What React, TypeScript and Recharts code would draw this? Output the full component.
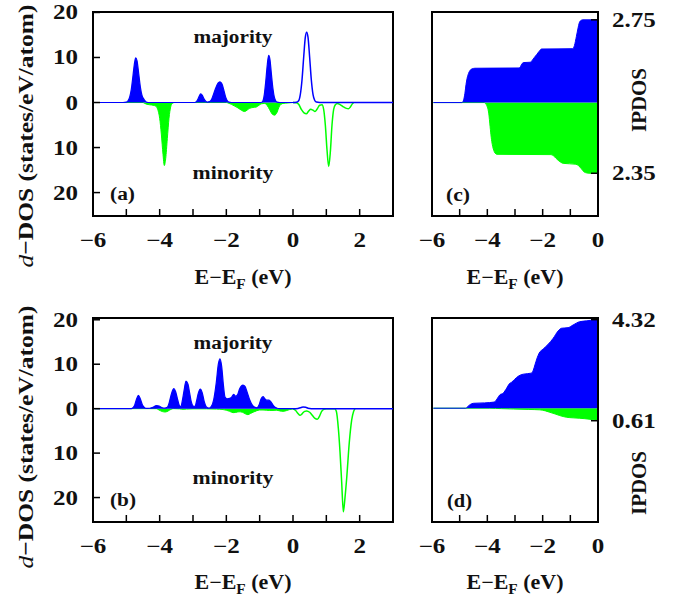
import React from 'react';
import { ComposedChart, Area, Line, XAxis, YAxis, ReferenceArea } from 'recharts';

const FONT = '"Liberation Serif", "Times New Roman", Times, serif';
const BLUE = '#0000ff';
const GREEN = '#00ff00';

// ---- tick values ----
const dosTicksX = [-6, -5, -4, -3, -2, -1, 0, 1, 2, 3];
const ipdosTicksX = [-6, -5, -4, -3, -2, -1, 0];
const dosTicksY = [-20, -10, 0, 10, 20];
const ipdosTicksC = [-2.35, 2.75];
const ipdosTicksD = [-0.61, 4.32];

// ---- panel (a): d-DOS [energy, value] ----
const aMajOcc: [number, number][] = [
  [-5.95, 0], [-5.1, 0], [-5.0, 0.1], [-4.95, 0.4], [-4.9, 1.2], [-4.85, 3.0], [-4.8, 6.0], [-4.75, 9.0],
  [-4.72, 9.9], [-4.68, 9.3], [-4.63, 6.5], [-4.58, 3.5], [-4.53, 1.6], [-4.48, 0.8], [-4.43, 0.3],
  [-4.38, 0.05], [-4.3, 0], [-2.95, 0], [-2.9, 0.2], [-2.85, 0.8], [-2.8, 1.6], [-2.77, 1.9], [-2.72, 1.6],
  [-2.67, 0.8], [-2.62, 0.3], [-2.57, 0.1], [-2.5, 0.2], [-2.45, 0.6], [-2.4, 1.5], [-2.33, 3.0],
  [-2.25, 4.3], [-2.19, 4.6], [-2.13, 4.1], [-2.07, 2.6], [-2.02, 1.2], [-1.97, 0.4], [-1.92, 0.1],
  [-1.85, 0], [-0.95, 0], [-0.9, 0.4], [-0.86, 1.8], [-0.82, 4.5], [-0.77, 8.5], [-0.73, 10.5],
  [-0.69, 9.5], [-0.65, 6.5], [-0.6, 3.0], [-0.56, 1.2], [-0.52, 0.4], [-0.48, 0.1], [-0.4, 0], [0, 0],
];
const aMajUnocc: [number, number][] = [
  [0, 0], [0.1, 0.05], [0.17, 0.4], [0.22, 1.8], [0.27, 5.0], [0.32, 10.0], [0.37, 14.5], [0.41, 15.6],
  [0.45, 14.5], [0.5, 10.0], [0.55, 5.0], [0.6, 1.8], [0.65, 0.5], [0.7, 0.1], [0.8, 0], [3, 0],
];
const aMinOcc: [number, number][] = [
  [-5.95, 0], [-4.5, 0], [-4.45, -0.2], [-4.38, -0.4], [-4.3, -0.5], [-4.2, -0.6], [-4.12, -0.8],
  [-4.06, -1.5], [-4.0, -3.5], [-3.95, -7.0], [-3.9, -11.5], [-3.86, -14.0], [-3.82, -12.5], [-3.77, -8.0],
  [-3.72, -3.5], [-3.67, -1.0], [-3.62, -0.2], [-3.55, 0], [-2.0, 0], [-1.95, -0.1], [-1.85, -0.4],
  [-1.75, -0.8], [-1.65, -1.2], [-1.55, -1.7], [-1.45, -2.0], [-1.38, -1.7], [-1.3, -1.3], [-1.2, -1.1],
  [-1.1, -1.0], [-1.02, -0.6], [-0.95, -0.3], [-0.85, -0.2], [-0.78, -0.6], [-0.7, -1.6], [-0.62, -2.6],
  [-0.55, -2.8], [-0.48, -2.2], [-0.42, -1.0], [-0.36, -0.4], [-0.3, -0.2], [-0.15, -0.1], [0, 0],
];
const aMinUnocc: [number, number][] = [
  [0, 0], [0.1, -0.05], [0.17, -0.4], [0.25, -1.5], [0.33, -2.3], [0.4, -2.5], [0.47, -1.9], [0.53, -1.5],
  [0.6, -1.7], [0.66, -2.0], [0.72, -1.5], [0.8, -0.6], [0.87, -0.5], [0.92, -1.5], [0.97, -5.0],
  [1.02, -10.5], [1.07, -14.2], [1.12, -11.0], [1.17, -5.0], [1.22, -1.5], [1.27, -0.5], [1.33, -0.2],
  [1.4, -0.4], [1.5, -0.9], [1.6, -1.3], [1.66, -1.4], [1.72, -1.0], [1.78, -0.3], [1.82, 0],
];

// ---- panel (b): d-DOS ----
const bMajOcc: [number, number][] = [
  [-5.95, 0], [-4.85, 0], [-4.8, 0.2], [-4.75, 0.8], [-4.7, 2.0], [-4.64, 3.0], [-4.58, 2.2], [-4.52, 0.9],
  [-4.46, 0.3], [-4.4, 0.05], [-4.3, 0.1], [-4.2, 0.3], [-4.1, 0.7], [-4.02, 0.6], [-3.92, 0.2],
  [-3.85, 0.1], [-3.77, 0.3], [-3.72, 1.2], [-3.66, 3.0], [-3.6, 4.3], [-3.57, 4.5], [-3.52, 3.8],
  [-3.46, 2.0], [-3.4, 0.6], [-3.36, 0.5], [-3.32, 1.8], [-3.27, 4.0], [-3.21, 6.2], [-3.15, 5.5],
  [-3.1, 3.5], [-3.05, 1.5], [-3.0, 0.6], [-2.94, 0.5], [-2.9, 1.5], [-2.84, 3.5], [-2.78, 4.4],
  [-2.72, 3.5], [-2.66, 1.5], [-2.6, 0.4], [-2.52, 0.1], [-2.45, 0.5], [-2.38, 2.0], [-2.3, 6.0],
  [-2.24, 10.0], [-2.19, 11.2], [-2.14, 9.5], [-2.09, 5.5], [-2.04, 2.6], [-1.98, 2.2], [-1.9, 2.3],
  [-1.84, 2.6], [-1.78, 3.2], [-1.72, 2.8], [-1.66, 3.2], [-1.6, 4.5], [-1.5, 5.3], [-1.44, 5.0],
  [-1.38, 3.8], [-1.3, 2.0], [-1.22, 0.8], [-1.14, 0.3], [-1.08, 0.2], [-1.02, 0.8], [-0.96, 2.2],
  [-0.9, 2.7], [-0.84, 2.2], [-0.78, 1.9], [-0.72, 1.9], [-0.66, 1.5], [-0.6, 0.8], [-0.54, 0.3],
  [-0.48, 0.1], [-0.4, 0], [0, 0],
];
const bMajUnocc: [number, number][] = [
  [0, 0], [0.15, 0.05], [0.22, 0.2], [0.3, 0.35], [0.38, 0.3], [0.45, 0.1], [0.55, 0], [3, 0],
];
const bMinOcc: [number, number][] = [
  [-5.95, 0], [-4.1, 0], [-4.02, -0.3], [-3.92, -0.65], [-3.83, -0.75], [-3.74, -0.5], [-3.66, -0.15],
  [-3.58, 0], [-3.4, -0.05], [-3.3, -0.15], [-3.2, -0.1], [-3.0, -0.05], [-2.6, -0.05], [-2.3, -0.1],
  [-2.1, -0.2], [-2.0, -0.35], [-1.9, -0.6], [-1.8, -0.9], [-1.72, -0.85], [-1.62, -0.7], [-1.52, -0.8],
  [-1.42, -1.2], [-1.35, -1.35], [-1.28, -1.1], [-1.2, -0.8], [-1.1, -0.5], [-1.0, -0.3], [-0.9, -0.3],
  [-0.8, -0.35], [-0.7, -0.4], [-0.6, -0.4], [-0.5, -0.35], [-0.4, -0.5], [-0.3, -0.6], [-0.2, -0.45],
  [-0.1, -0.2], [0, -0.05],
];
const bMinUnocc: [number, number][] = [
  [0, -0.05], [0.08, -0.4], [0.15, -1.1], [0.21, -1.5], [0.28, -1.1], [0.35, -0.6], [0.41, -0.5],
  [0.5, -0.8], [0.58, -1.5], [0.66, -2.2], [0.73, -2.4], [0.8, -1.6], [0.86, -0.6], [0.92, -0.15],
  [1.0, 0], [1.25, 0], [1.3, -0.6], [1.36, -4.4], [1.41, -9.7], [1.46, -16.5], [1.51, -23.2],
  [1.56, -20.0], [1.61, -15.7], [1.69, -7.5], [1.76, -2.6], [1.82, -0.6], [1.86, 0],
];

// ---- panel (c): IPDOS ----
const cMaj: [number, number][] = [
  [-5.95, 0], [-4.92, 0], [-4.87, 0.05], [-4.81, 0.31], [-4.77, 0.6], [-4.73, 0.81], [-4.68, 0.97],
  [-4.63, 1.06], [-4.55, 1.12], [-4.45, 1.14], [-2.85, 1.15], [-2.8, 1.2], [-2.74, 1.3], [-2.68, 1.33],
  [-2.45, 1.34], [-2.38, 1.4], [-2.3, 1.5], [-2.22, 1.59], [-2.13, 1.7], [-2.04, 1.78], [-0.92, 1.79],
  [-0.85, 1.9], [-0.78, 2.2], [-0.72, 2.48], [-0.68, 2.64], [-0.63, 2.72], [-0.55, 2.75], [0, 2.75],
];
const cMin: [number, number][] = [
  [-5.95, 0], [-4.12, 0], [-4.05, -0.05], [-4.0, -0.15], [-3.95, -0.35], [-3.9, -0.8], [-3.86, -1.15],
  [-3.82, -1.4], [-3.77, -1.58], [-3.72, -1.68], [-3.65, -1.72], [-1.7, -1.73], [-1.62, -1.76],
  [-1.52, -1.85], [-1.44, -1.92], [-1.35, -1.98], [-1.26, -2.02], [-0.8, -2.05], [-0.7, -2.1],
  [-0.6, -2.2], [-0.51, -2.3], [-0.4, -2.34], [-0.29, -2.35], [0, -2.35],
];

// ---- panel (d): IPDOS ----
const dMaj: [number, number][] = [
  [-5.95, 0], [-4.78, 0], [-4.73, 0.05], [-4.65, 0.15], [-4.56, 0.22], [-4.5, 0.24], [-4.1, 0.26],
  [-3.75, 0.3], [-3.65, 0.45], [-3.55, 0.65], [-3.43, 0.73], [-3.3, 0.98], [-3.2, 1.2], [-3.12, 1.27],
  [-3.02, 1.4], [-2.95, 1.49], [-2.8, 1.62], [-2.7, 1.66], [-2.41, 1.71], [-2.34, 1.85], [-2.28, 2.11],
  [-2.2, 2.45], [-2.13, 2.68], [-1.98, 2.89], [-1.8, 3.12], [-1.62, 3.41], [-1.44, 3.77], [-1.32, 3.9],
  [-1.08, 3.93], [-0.9, 4.06], [-0.66, 4.22], [-0.41, 4.26], [-0.2, 4.3], [0, 4.32],
];
const dMin: [number, number][] = [
  [-5.95, 0], [-3.91, 0], [-3.5, -0.02], [-3.06, -0.04], [-2.5, -0.06], [-2.1, -0.08], [-1.9, -0.13],
  [-1.74, -0.2], [-1.55, -0.28], [-1.38, -0.36], [-1.14, -0.44], [-0.9, -0.47], [-0.66, -0.49],
  [-0.29, -0.54], [-0.1, -0.58], [0, -0.61],
];

const pts = (arr: [number, number][]) => arr.map(([e, v]) => ({ e, v }));

const minusFmt = (v: number) => (v < 0 ? '\u2212' : '') + Math.abs(v);

const txtStyle: React.CSSProperties = {
  fontFamily: FONT,
  fontWeight: 700,
  fill: '#111',
};

function BottomTick(props: any) {
  const { x, y, payload } = props;
  const v = payload.value;
  const show = Math.abs(v % 2) < 1e-9;
  return (
    <g>
      <line x1={x} y1={y} x2={x} y2={y - 7} stroke="#000" strokeWidth={1.5} />
      {show && (
        <text transform={`translate(${x},${y + 31}) scale(1.25,1)`} textAnchor="middle" style={{ ...txtStyle, fontSize: 20 }}>
          {minusFmt(v)}
        </text>
      )}
    </g>
  );
}

function TopTick(props: any) {
  const { x, y } = props;
  return <line x1={x} y1={y} x2={x} y2={y + 7} stroke="#000" strokeWidth={1.5} />;
}

function LeftTick(props: any) {
  const { x, y, payload } = props;
  return (
    <g>
      <line x1={x} y1={y} x2={x + 7} y2={y} stroke="#000" strokeWidth={1.5} />
      <text transform={`translate(${x - 15},${y + 7}) scale(1.25,1)`} textAnchor="end" style={{ ...txtStyle, fontSize: 20 }}>
        {String(Math.abs(payload.value))}
      </text>
    </g>
  );
}

function RightTick(props: any) {
  const { x, y, payload } = props;
  return (
    <g>
      <line x1={x} y1={y} x2={x - 7} y2={y} stroke="#000" strokeWidth={1.5} />
      <text transform={`translate(${x + 14},${y + 7}) scale(1.25,1)`} textAnchor="start" style={{ ...txtStyle, fontSize: 20 }}>
        {Math.abs(payload.value).toFixed(2)}
      </text>
    </g>
  );
}

const axisCommon = {
  tickSize: 0,
  tickMargin: 0,
  tickLine: false,
  axisLine: false,
  interval: 0 as const,
  allowDataOverflow: true,
};

function DosPanel(props: {
  majOcc: [number, number][];
  majUnocc: [number, number][];
  minOcc: [number, number][];
  minUnocc: [number, number][];
  yDomain: [number, number];
  height: number;
  marginTop: number;
  xAxisHeight: number;
}) {
  const { majOcc, majUnocc, minOcc, minUnocc, yDomain, height, marginTop, xAxisHeight } = props;
  return (
    <ComposedChart width={400} height={height} margin={{ top: marginTop, right: 7, bottom: 0, left: 0 }}>
      <XAxis dataKey="e" type="number" domain={[-6, 3]} ticks={dosTicksX} height={xAxisHeight} tick={BottomTick} {...axisCommon} />
      <YAxis type="number" domain={yDomain} ticks={dosTicksY} width={93} tick={LeftTick} {...axisCommon} />
      <Area data={pts(minOcc)} dataKey="v" type="monotone" baseValue={0} stroke={GREEN} strokeWidth={1} fill={GREEN} fillOpacity={1} dot={false} activeDot={false} isAnimationActive={false} />
      <Line data={pts(minUnocc)} dataKey="v" type="monotone" stroke={GREEN} strokeWidth={1.5} dot={false} activeDot={false} isAnimationActive={false} />
      <Area data={pts(majOcc)} dataKey="v" type="monotone" baseValue={0} stroke={BLUE} strokeWidth={1.2} fill={BLUE} fillOpacity={1} dot={false} activeDot={false} isAnimationActive={false} />
      <Line data={pts(majUnocc)} dataKey="v" type="monotone" stroke={BLUE} strokeWidth={1.5} dot={false} activeDot={false} isAnimationActive={false} />
      <ReferenceArea x1={-6} x2={3} y1={yDomain[0]} y2={yDomain[1]} fill="none" stroke="#000" strokeWidth={2} ifOverflow="visible" />
    </ComposedChart>
  );
}

function IpdosPanel(props: {
  maj: [number, number][];
  min: [number, number][];
  yDomain: [number, number];
  yTicks: number[];
  height: number;
  marginTop: number;
  xAxisHeight: number;
}) {
  const { maj, min, yDomain, yTicks, height, marginTop, xAxisHeight } = props;
  return (
    <ComposedChart width={279} height={height} margin={{ top: marginTop, right: 0, bottom: 0, left: 32 }}>
      <XAxis dataKey="e" type="number" domain={[-6, 0]} ticks={ipdosTicksX} height={xAxisHeight} tick={BottomTick} {...axisCommon} />
      <XAxis xAxisId="top" orientation="top" type="number" domain={[-6, 0]} ticks={ipdosTicksX} height={0} tick={TopTick} {...axisCommon} />
      <YAxis orientation="right" type="number" domain={yDomain} ticks={yTicks} width={81} tick={RightTick} {...axisCommon} />
      <Area data={pts(min)} dataKey="v" type="monotone" baseValue={0} stroke={GREEN} strokeWidth={1} fill={GREEN} fillOpacity={1} dot={false} activeDot={false} isAnimationActive={false} />
      <Area data={pts(maj)} dataKey="v" type="monotone" baseValue={0} stroke={BLUE} strokeWidth={1} fill={BLUE} fillOpacity={1} dot={false} activeDot={false} isAnimationActive={false} />
      <ReferenceArea x1={-6} x2={0} y1={yDomain[0]} y2={yDomain[1]} fill="none" stroke="#000" strokeWidth={2} ifOverflow="visible" />
    </ComposedChart>
  );
}

function XTitle({ x, y }: { x: number; y: number }) {
  return (
    <text x={x} y={y} textAnchor="middle" textLength={97} lengthAdjust="spacingAndGlyphs" style={{ ...txtStyle, fontSize: 20 }}>
      E{'\u2212'}E<tspan dy={5} style={{ fontSize: 14 }}>F</tspan>
      <tspan dy={-5}> (eV)</tspan>
    </text>
  );
}

function DosTitle({ cy }: { cy: number }) {
  return (
    <text transform={`translate(33,${cy}) rotate(-90)`} textAnchor="middle" textLength={263} lengthAdjust="spacingAndGlyphs" style={{ ...txtStyle, fontSize: 22 }}>
      <tspan style={{ fontStyle: 'italic', fontWeight: 400 }}>d</tspan>{'\u2212'}DOS (states/eV/atom)
    </text>
  );
}

function IpdosTitle({ cy }: { cy: number }) {
  return (
    <text transform={`translate(646,${cy}) rotate(-90)`} textAnchor="middle" textLength={64} lengthAdjust="spacingAndGlyphs" style={{ ...txtStyle, fontSize: 21 }}>
      IPDOS
    </text>
  );
}

function Note({ x, y, t, len, anchor = 'middle' }: { x: number; y: number; t: string; len: number; anchor?: string }) {
  return (
    <text x={x} y={y} textAnchor={anchor as any} textLength={len} lengthAdjust="spacingAndGlyphs" style={{ ...txtStyle, fontSize: 18 }}>
      {t}
    </text>
  );
}

export default function App() {
  return (
    <div style={{ position: 'absolute', left: 0, top: 0, width: 679, height: 597, background: '#fff', overflow: 'hidden' }}>
      <div style={{ position: 'absolute', left: 0, top: 0 }}>
        <DosPanel majOcc={aMajOcc} majUnocc={aMajUnocc} minOcc={aMinOcc} minUnocc={aMinUnocc} yDomain={[-25.2, 20.1]} height={300} marginTop={12} xAxisHeight={84} />
      </div>
      <div style={{ position: 'absolute', left: 0, top: 300 }}>
        <DosPanel majOcc={bMajOcc} majUnocc={bMajUnocc} minOcc={bMinOcc} minUnocc={bMinUnocc} yDomain={[-25.5, 20.4]} height={297} marginTop={18} xAxisHeight={75} />
      </div>
      <div style={{ position: 'absolute', left: 400, top: 0 }}>
        <IpdosPanel maj={cMaj} min={cMin} yDomain={[-3.77, 3.01]} yTicks={ipdosTicksC} height={300} marginTop={12} xAxisHeight={84} />
      </div>
      <div style={{ position: 'absolute', left: 400, top: 300 }}>
        <IpdosPanel maj={dMaj} min={dMin} yDomain={[-5.55, 4.4]} yTicks={ipdosTicksD} height={297} marginTop={18} xAxisHeight={75} />
      </div>
      <svg width={679} height={597} style={{ position: 'absolute', left: 0, top: 0, pointerEvents: 'none' }}>
        <Note x={233} y={42.5} t="majority" len={79} />
        <Note x={233} y={178.5} t="minority" len={81} />
        <Note x={233} y={348.5} t="majority" len={79} />
        <Note x={233} y={483.5} t="minority" len={81} />
        <Note x={110} y={200} t="(a)" len={25} anchor="start" />
        <Note x={110} y={506} t="(b)" len={26} anchor="start" />
        <Note x={446} y={201} t="(c)" len={24} anchor="start" />
        <Note x={447} y={507} t="(d)" len={25} anchor="start" />
        <XTitle x={243} y={284} />
        <XTitle x={243} y={589} />
        <XTitle x={515} y={284} />
        <XTitle x={515} y={589} />
        <DosTitle cy={136} />
        <DosTitle cy={437} />
        <IpdosTitle cy={100} />
        <IpdosTitle cy={483} />
      </svg>
    </div>
  );
}
